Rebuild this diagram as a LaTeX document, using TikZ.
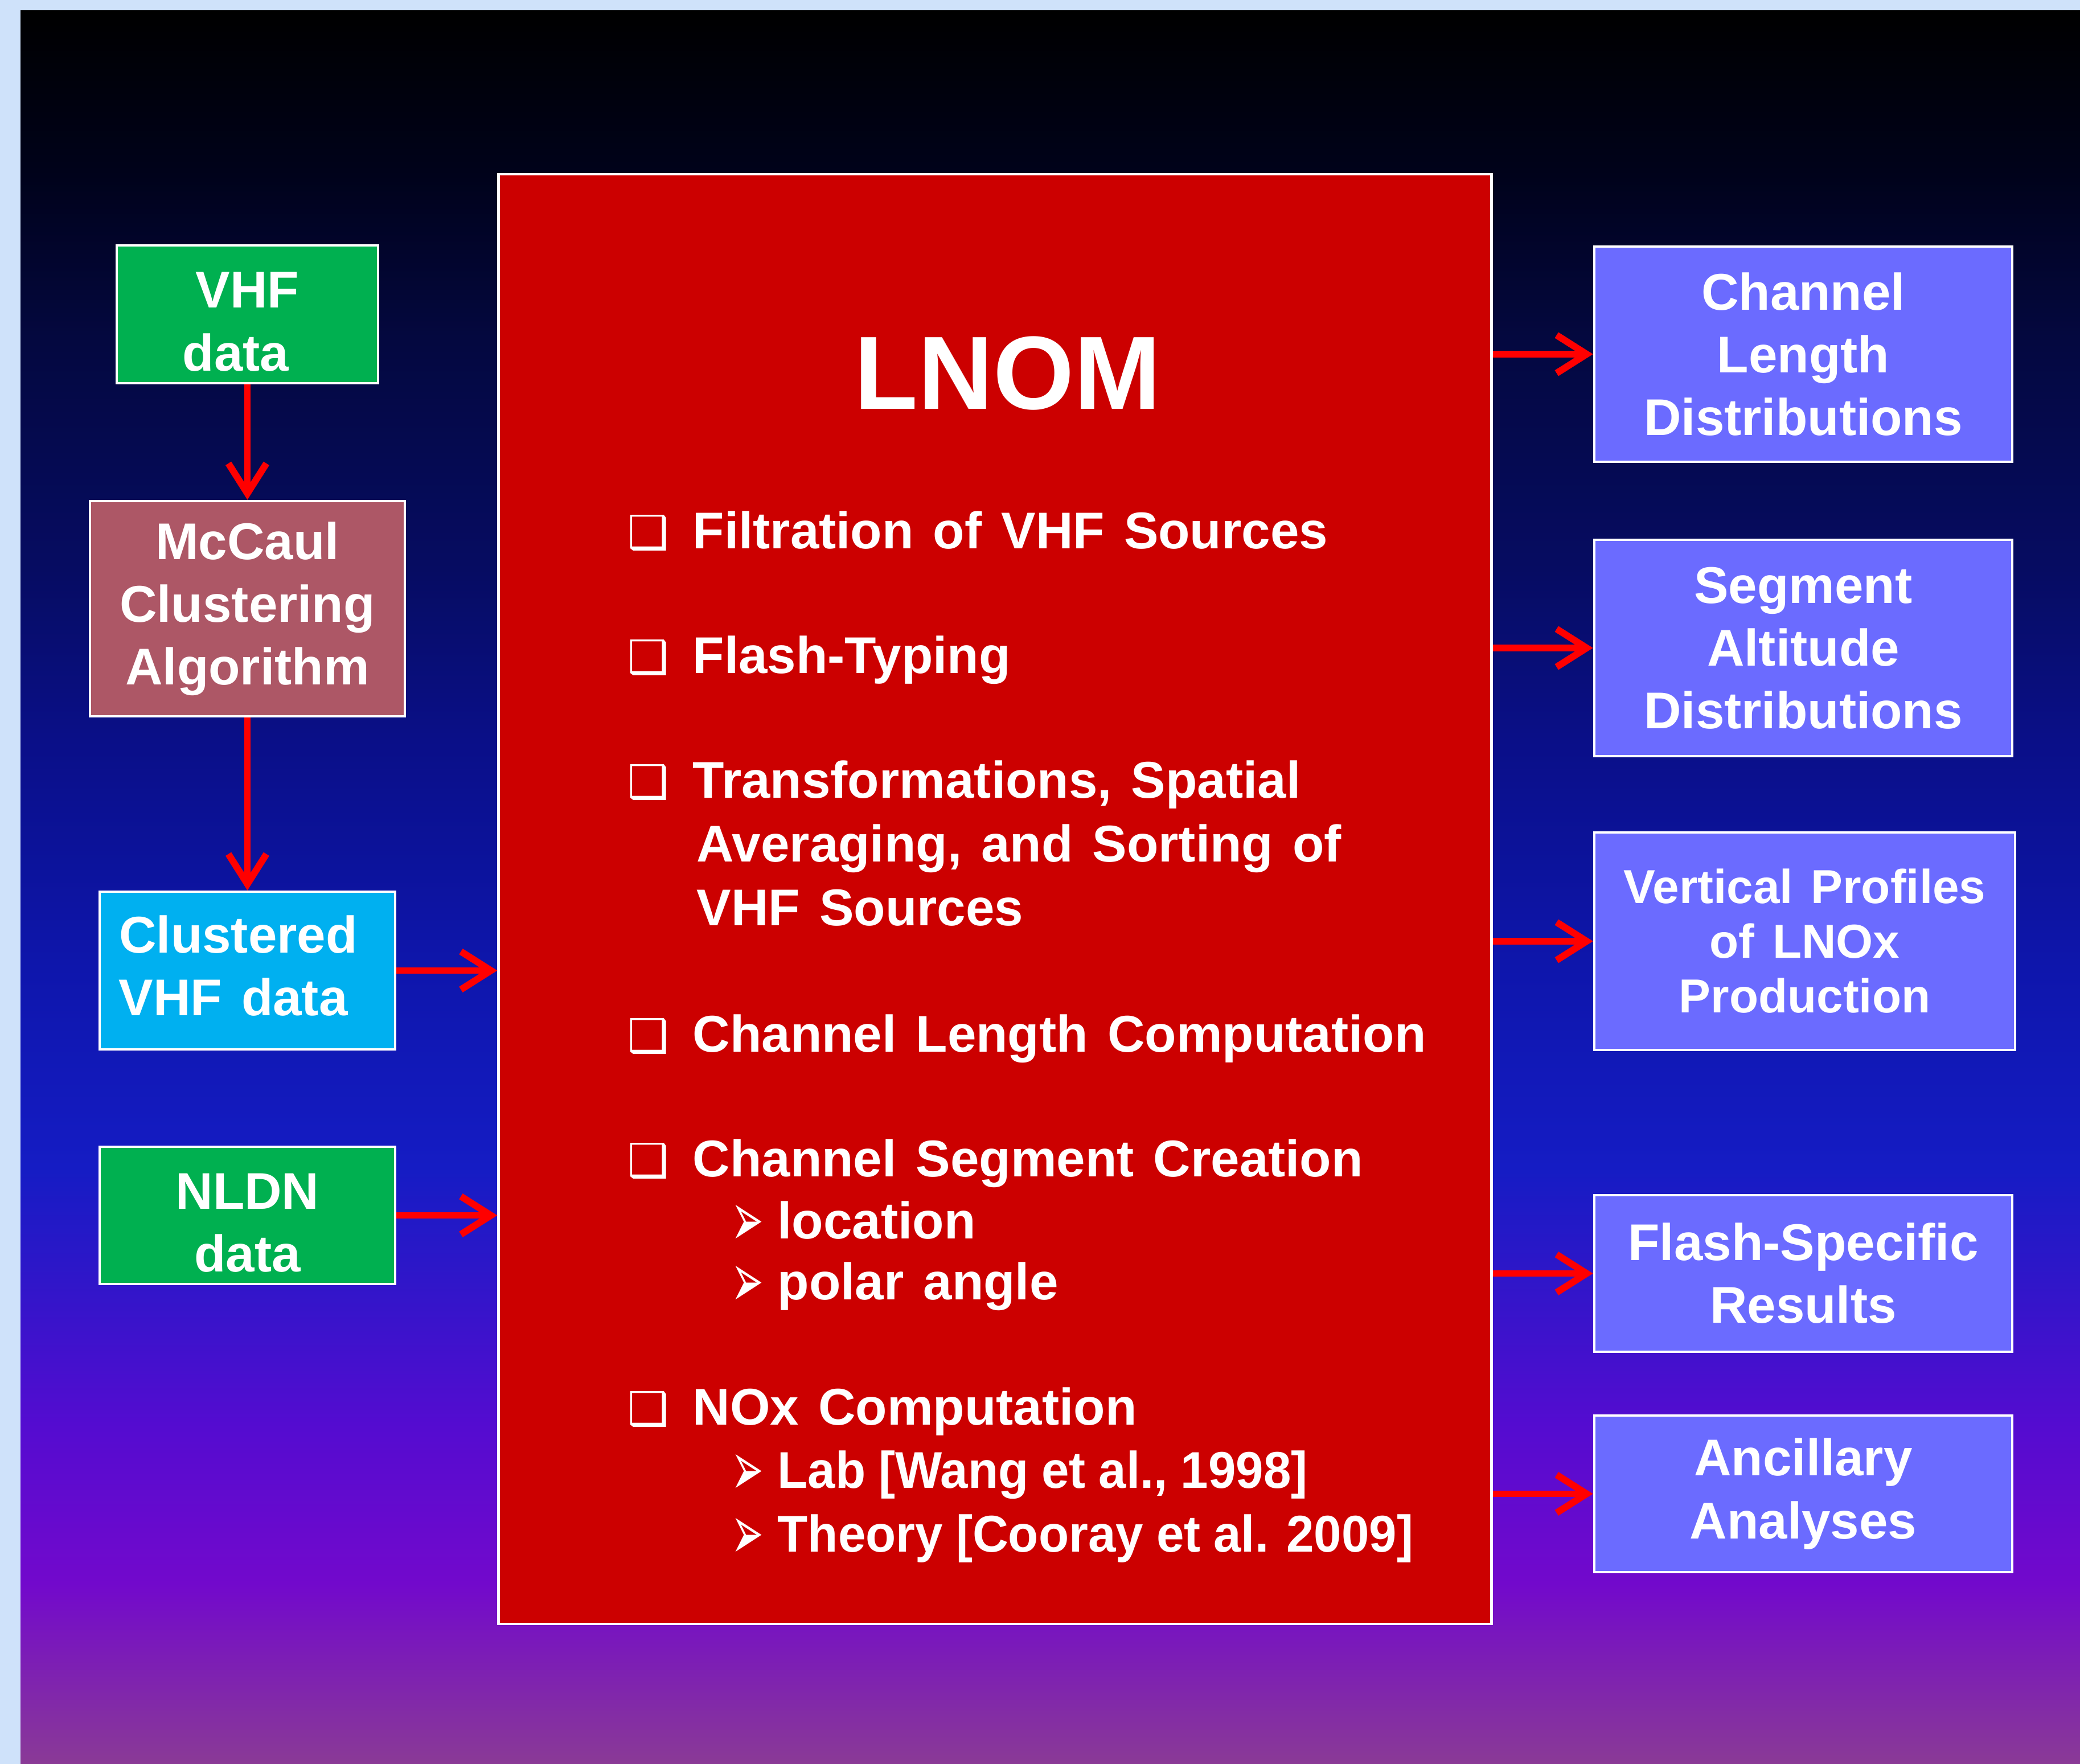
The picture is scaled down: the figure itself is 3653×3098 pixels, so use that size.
\documentclass[tikz,border=0pt]{standalone}
\usepackage{fontspec}
\setmainfont{Liberation Sans}[WordSpace=1.35]
\newfontfamily\subfont{Liberation Sans}[FakeStretch=0.96, WordSpace=0.95]
\newfontfamily\dingfont{DejaVu Sans}
\usetikzlibrary{arrows.meta}
\definecolor{framecol}{HTML}{CFE2FA}
\definecolor{gA}{HTML}{000000}
\definecolor{gB}{HTML}{00021A}
\definecolor{gC}{HTML}{040840}
\definecolor{gD}{HTML}{060C62}
\definecolor{gE}{HTML}{0A0F88}
\definecolor{gF}{HTML}{0E16AC}
\definecolor{gG}{HTML}{151CC4}
\definecolor{gH}{HTML}{3016C9}
\definecolor{gI}{HTML}{540CD0}
\definecolor{gJ}{HTML}{7209CC}
\definecolor{gK}{HTML}{8A3A96}
\definecolor{lnomred}{HTML}{CC0000}
\definecolor{cgreen}{HTML}{00B050}
\definecolor{crose}{HTML}{AD5766}
\definecolor{ccyan}{HTML}{00B0F0}
\definecolor{cviolet}{HTML}{6B6BFF}
\definecolor{arrred}{HTML}{FF0000}
\pgfdeclareverticalshading{bgshade}{100bp}{color(0bp)=(gK); color(25bp)=(gK); color(30.16bp)=(gJ); color(34.71bp)=(gI); color(38.77bp)=(gH); color(42.02bp)=(gG); color(47.70bp)=(gF); color(54.20bp)=(gE); color(59.07bp)=(gD); color(65.56bp)=(gC); color(70.44bp)=(gB); color(75bp)=(gA); color(100bp)=(gA)}
\newcommand{\subarrow}{\raisebox{-3.9pt}{\scalebox{0.5}[1]{\dingfont\fontsize{38.5pt}{40pt}\selectfont ➢}}}
\begin{document}
\begin{tikzpicture}[x=0.01cm,y=-0.01cm,
  box/.style={draw=white, line width=1.2pt, text=white, align=center, inner sep=0pt,
    font={\bfseries\fontsize{25.8pt}{31.3pt}\selectfont}},
  item/.style={text=white, inner sep=0pt, anchor=base west,
    font={\bfseries\fontsize{25.8pt}{31.3pt}\selectfont}},
  subitem/.style={item, font={\subfont\bfseries\fontsize{25.8pt}{31.3pt}\selectfont}},
  bul/.style={text=white, inner sep=0pt, anchor=base west,
    font={\dingfont\fontsize{23pt}{28pt}\selectfont}},
  subbul/.style={text=white, inner sep=0pt, anchor=base west},
  arr/.style={draw=arrred, line width=3.4pt, -{Straight Barb[length=15pt,width=19pt]}}]
\useasboundingbox (0,0) rectangle (3653,3098);
\fill[framecol] (0,0) rectangle (3653,3098);
\shade[shading=bgshade] (36,19) rectangle (3653,3098);

% left column
\node[box, fill=cgreen, minimum width=4.59cm, minimum height=2.42cm] (vhf) at (434.5,552) {\rule{0pt}{25.3pt}VHF\\data\hspace*{0.45em}};
\node[box, fill=crose, minimum width=5.53cm, minimum height=3.78cm] (mccaul) at (434.5,1069) {McCaul\\Clustering\\Algorithm};
\node[box, fill=ccyan, minimum width=5.19cm, minimum height=2.77cm] (clustered) at (434.5,1704.5) {Clustered\hspace*{0.35em}\\VHF data\hspace*{0.55em}\rule[-5.3pt]{0pt}{5.3pt}};
\node[box, fill=cgreen, minimum width=5.19cm, minimum height=2.41cm] (nldn) at (434.5,2134.5) {\rule{0pt}{25.3pt}NLDN\\data};

% central box
\node[box, fill=lnomred, minimum width=17.43cm, minimum height=25.44cm] (lnom) at (1747.5,1579) {};
\node[text=white, inner sep=0pt, anchor=base, font={\bfseries\fontsize{52pt}{60pt}\selectfont}] (title) at (1770,719) {LNOM};

\node[bul] (k1) at (1102,964) {❑};
\node[item] (t1) at (1216,964) {Filtration of VHF Sources};
\node[bul] (k2) at (1102,1183) {❑};
\node[item] (t2) at (1216,1183) {Flash-Typing};
\node[bul] (k3) at (1102,1402) {❑};
\node[item] (t3a) at (1216,1402) {Transformations, Spatial};
\node[item] (t3b) at (1223,1514) {Averaging, and Sorting of};
\node[item] (t3c) at (1223,1626) {VHF Sources};
\node[bul] (k4) at (1102,1847) {❑};
\node[item] (t4) at (1216,1847) {Channel Length Computation};
\node[bul] (k5) at (1102,2066) {❑};
\node[item] (t5) at (1216,2066) {Channel Segment Creation};
\node[subbul] (s5a) at (1284,2175) {\subarrow};
\node[item] (t5a) at (1365,2175) {location};
\node[subbul] (s5b) at (1284,2282) {\subarrow};
\node[item] (t5b) at (1365,2282) {polar angle};
\node[bul] (k6) at (1102,2502) {❑};
\node[item] (t6) at (1216,2502) {NOx Computation};
\node[subbul] (s6a) at (1284,2613) {\subarrow};
\node[subitem] (t6a) at (1365,2613) {Lab [Wang et al., 1998]};
\node[subbul] (s6b) at (1284,2725) {\subarrow};
\node[subitem] (t6b) at (1365,2725) {Theory [Cooray et al. 2009]};

% right column
\node[box, fill=cviolet, minimum width=7.34cm, minimum height=3.78cm] (r1) at (3167,622) {Channel\\Length\\Distributions};
\node[box, fill=cviolet, minimum width=7.34cm, minimum height=3.80cm] (r2) at (3167,1138) {Segment\\Altitude\\Distributions};
\node[box, fill=cviolet, minimum width=7.39cm, minimum height=3.82cm, font={\bfseries\fontsize{23.8pt}{27.3pt}\selectfont}] (r3) at (3169.5,1653) {Vertical Profiles\\of LNOx\\Production};
\node[box, fill=cviolet, minimum width=7.34cm, minimum height=2.75cm] (r4) at (3167,2236.5) {Flash-Specific\\Results};
\node[box, fill=cviolet, minimum width=7.34cm, minimum height=2.75cm] (r5) at (3167,2623.5) {Ancillary\\Analyses};

% connectors
\draw[arr] (vhf.south) -- (mccaul.north);
\draw[arr] (mccaul.south) -- (clustered.north);
\draw[arr] (clustered.east) -- (clustered.east -| lnom.west);
\draw[arr] (nldn.east) -- (nldn.east -| lnom.west);
\draw[arr] (lnom.east |- r1.west) -- (r1.west);
\draw[arr] (lnom.east |- r2.west) -- (r2.west);
\draw[arr] (lnom.east |- r3.west) -- (r3.west);
\draw[arr] (lnom.east |- r4.west) -- (r4.west);
\draw[arr] (lnom.east |- r5.west) -- (r5.west);
\end{tikzpicture}
\end{document}
